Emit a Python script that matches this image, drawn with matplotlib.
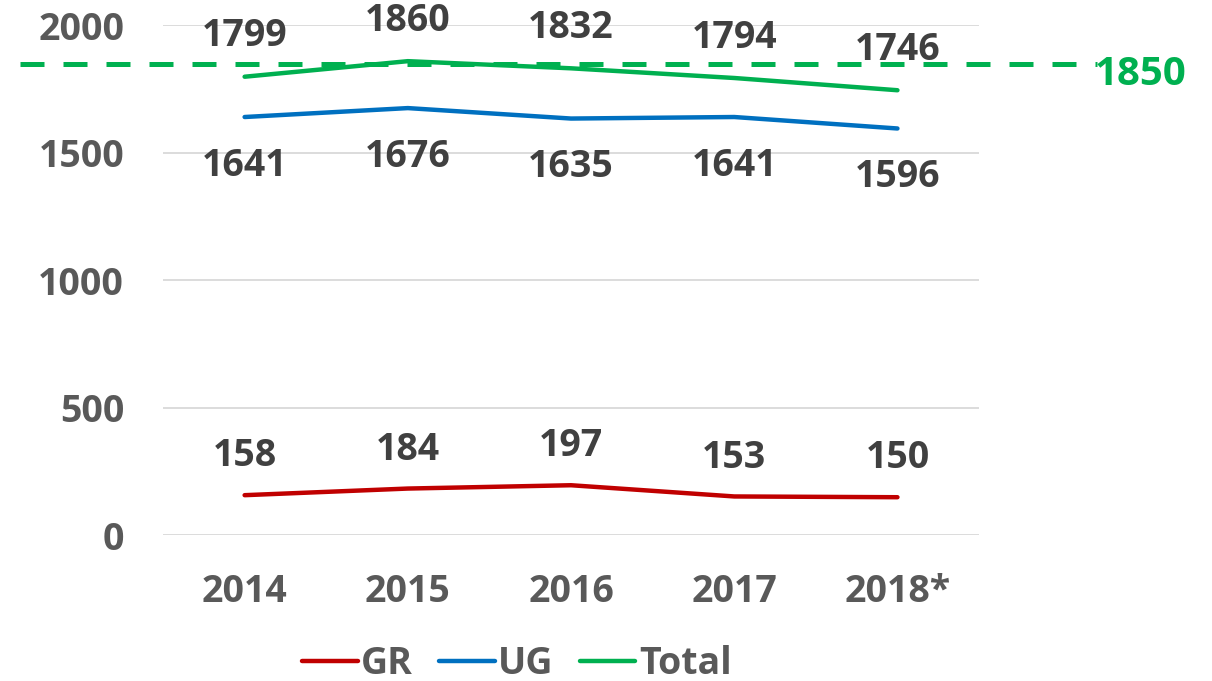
import matplotlib
matplotlib.use("Agg")
import matplotlib.pyplot as plt
from matplotlib.transforms import blended_transform_factory

years = ["2014", "2015", "2016", "2017", "2018*"]
gr = [158, 184, 197, 153, 150]
ug = [1641, 1676, 1635, 1641, 1596]
total = [1799, 1860, 1832, 1794, 1746]
target = 1850
yticks = [0, 500, 1000, 1500, 2000]

plt.rcParams['font.family'] = ['Open Sans', 'DejaVu Sans']
plt.rcParams['font.weight'] = 'bold'

fig = plt.figure(figsize=(12.12, 6.81), dpi=100)
ax = fig.add_axes([0.1345, 0.2137, 0.6733, 0.7489])

x = list(range(len(years)))
c_gr, c_ug, c_tot = "#C00000", "#0070C0", "#00B050"
lab_col = "#404040"
tick_col = "#595959"
fs = 27

ax.plot(x, gr, color=c_gr, lw=3.2, solid_capstyle='round', label="GR", zorder=3)
ax.plot(x, ug, color=c_ug, lw=3.2, solid_capstyle='round', label="UG", zorder=3)
ax.plot(x, total, color=c_tot, lw=3.2, solid_capstyle='round', label="Total", zorder=3)

for xi, v in zip(x, gr):
    ax.annotate(str(v), (xi, v), xytext=(0, 28), textcoords='offset points',
                ha='center', va='center', fontsize=fs, fontweight='bold', color=lab_col)
for xi, v in zip(x, ug):
    ax.annotate(str(v), (xi, v), xytext=(0, -35), textcoords='offset points',
                ha='center', va='center', fontsize=fs, fontweight='bold', color=lab_col)
for xi, v in zip(x, total):
    ax.annotate(str(v), (xi, v), xytext=(0, 29), textcoords='offset points',
                ha='center', va='center', fontsize=fs, fontweight='bold', color=lab_col)

tr = blended_transform_factory(ax.transAxes, ax.transData)
ax.plot([-0.175, 1.1446], [target, target], transform=tr, color=c_tot, lw=3.6,
        dashes=(4.8, 3.8), clip_on=False, zorder=2)
ax.annotate(str(target), (1.1976, target), xycoords=tr, xytext=(0, -8),
            textcoords='offset points', ha='center', va='center',
            fontsize=29, fontweight='bold', color=c_tot, annotation_clip=False)

ax.set_xlim(-0.5, 4.5)
ax.set_ylim(0, 2000)
ax.set_yticks(yticks)
ax.set_xticks(x)
ax.set_xticklabels(years)
ax.grid(axis='y', color='#D9D9D9', lw=1.3)
ax.set_axisbelow(True)
for s in ax.spines.values():
    s.set_visible(False)
ax.tick_params(length=0, labelsize=fs, labelcolor=tick_col)
ax.tick_params(axis='y', pad=28)
ax.tick_params(axis='x', pad=27)
for t in ax.get_xticklabels() + ax.get_yticklabels():
    t.set_fontweight('bold')

leg = fig.legend(loc='center', bbox_to_anchor=(0.4266, 0.025), ncol=3, frameon=False,
                 fontsize=fs, handlelength=1.47, handletextpad=0.1, columnspacing=0.7)
for t in leg.get_texts():
    t.set_color(tick_col)
    t.set_fontweight('bold')

fig.savefig("out.png", dpi=100)
